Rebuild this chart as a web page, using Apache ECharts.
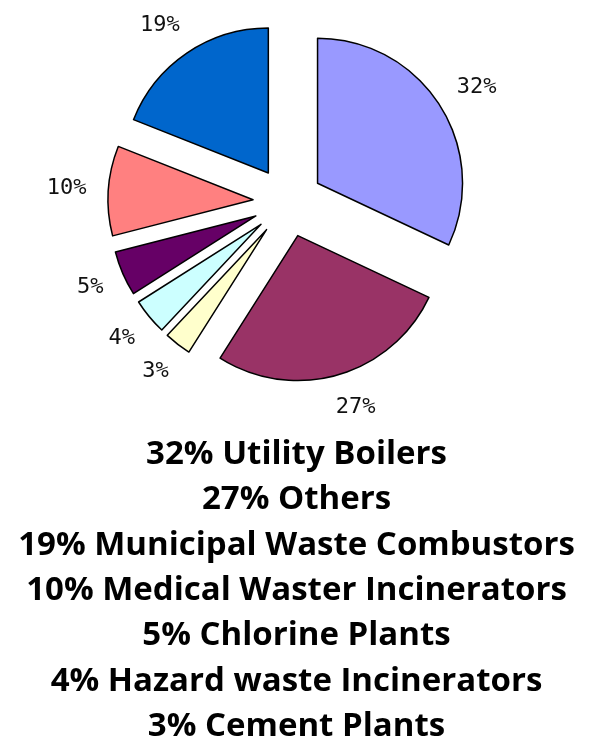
<!DOCTYPE html>
<html>
<head>
<meta charset="utf-8">
<script src="https://cdn.jsdelivr.net/npm/echarts@6/dist/echarts.min.js"></script>
<style>
  html, body { margin: 0; padding: 0; background: #fff; }
  #chart { width: 593px; height: 741px; }
</style>
</head>
<body>
<div id="chart"></div>
<script>
// slices in clockwise order from 12 o'clock
var sources = ['Utility Boilers', 'Others', 'Cement Plants', 'Hazard waste Incinerators',
               'Chlorine Plants', 'Medical Waster Incinerators', 'Municipal Waste Combustors'];
var shares = [32, 27, 3, 4, 5, 10, 19];
var colors = ['#9999FF', '#993366', '#FFFFCC', '#CCFFFF', '#660066', '#FF8080', '#0066CC'];

// caption lines, largest first
var order = shares.map(function (v, i) { return i; })
    .sort(function (a, b) { return shares[b] - shares[a]; });
var caption = order.map(function (i) { return shares[i] + '% ' + sources[i]; }).join('\n');

var pieData = sources.map(function (name, i) {
    return {
        name: name,
        value: shares[i],
        selected: true,
        itemStyle: { color: colors[i] }
    };
});

var chart = echarts.init(document.getElementById('chart'));
chart.setOption({
    animation: false,
    backgroundColor: '#fff',
    title: {
        text: caption,
        left: 'center',
        top: 432,
        padding: 0,
        textStyle: {
            fontFamily: 'Open Sans',
            fontWeight: 'bold',
            fontSize: 33,
            lineHeight: 45.3,
            color: '#000'
        }
    },
    series: [
        {
            type: 'pie',
            center: [288, 202],
            radius: 145,
            startAngle: 90,
            clockwise: true,
            selectedMode: 'multiple',
            selectedOffset: 35,
            avoidLabelOverlap: false,
            itemStyle: { borderColor: '#000', borderWidth: 1.5 },
            select: { itemStyle: { borderColor: '#000', borderWidth: 1.5 } },
            emphasis: { disabled: true },
            label: {
                show: true,
                position: 'outside',
                formatter: '{c}%',
                fontFamily: 'DejaVu Sans Mono',
                fontSize: 22,
                color: '#111',
                distanceToLabelLine: -12
            },
            labelLine: { show: false, length: 34, length2: 0 },
            data: pieData
        }
    ]
});
</script>
</body>
</html>
